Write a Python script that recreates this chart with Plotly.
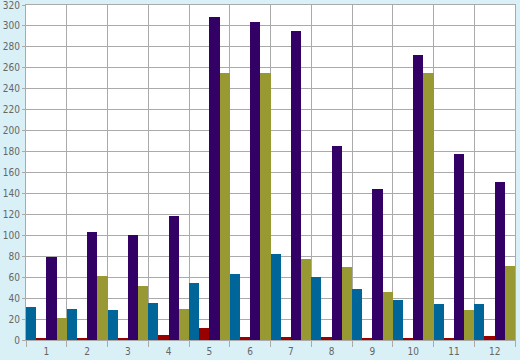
import plotly.graph_objects as go

categories = ["1", "2", "3", "4", "5", "6", "7", "8", "9", "10", "11", "12"]
blue = [32, 30, 29, 35, 54, 63, 82, 60, 49, 38, 34, 34]
red = [2, 1, 2, 5, 11, 3, 3, 3, 2, 1, 1, 4]
purple = [79, 103, 100, 118, 309, 304, 295, 185, 144, 272, 178, 151]
olive = [21, 61, 52, 30, 255, 255, 77, 70, 46, 255, 29, 71]

series = [
    ("Series 1", blue, "#006699"),
    ("Series 2", red, "#990000"),
    ("Series 3", purple, "#330066"),
    ("Series 4", olive, "#999933"),
]

fig = go.Figure()
for name, vals, col in series:
    fig.add_trace(go.Bar(x=categories, y=vals, name=name, marker=dict(color=col, line=dict(width=0))))

grid = "#aaaaaa"
fig.update_layout(
    width=520, height=360,
    margin=dict(l=26, r=5, t=5, b=20),
    paper_bgcolor="#d9f0f7",
    plot_bgcolor="#ffffff",
    barmode="group", bargap=0, bargroupgap=0,
    showlegend=False,
    font=dict(family="DejaVu Sans Condensed, DejaVu Sans", size=10, color="#666666"),
)
fig.update_xaxes(
    type="category", range=[-0.5, len(categories) - 0.5], automargin=False,
    tickson="boundaries", showgrid=True, gridcolor=grid, gridwidth=1,
    ticks="outside", ticklen=6, tickcolor=grid, ticklabelstandoff=2,
    showline=True, linecolor=grid, linewidth=1, mirror=True,
)
fig.update_yaxes(
    range=[0, 320], dtick=20, automargin=False, showgrid=True, gridcolor=grid, gridwidth=1,
    ticks="outside", ticklen=3, tickcolor=grid, ticklabeloverflow="allow",
    showline=True, linecolor=grid, linewidth=1, mirror=True, zeroline=False,
)
fig.write_html(
    "out.html",
    config={"displayModeBar": False},
    post_script="document.body.style.margin='0';document.body.style.background='#d9f0f7';",
)
